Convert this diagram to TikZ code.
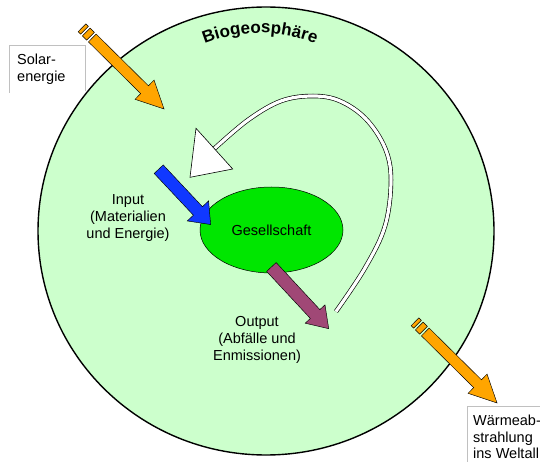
\documentclass[tikz,border=0pt]{standalone}
\usepackage{fontspec}
\setmainfont{Liberation Sans}
\usetikzlibrary{shapes.geometric,decorations.text}
\definecolor{bgreen}{RGB}{204,255,204}
\definecolor{sgreen}{RGB}{0,230,0}
\definecolor{sorange}{RGB}{255,165,0}
\definecolor{sblue}{RGB}{16,56,255}
\definecolor{spurple}{RGB}{160,72,118}
\definecolor{boxgray}{RGB}{192,192,192}
\begin{document}
\begin{tikzpicture}[x=1pt,y=-1pt,
  lbl/.style={font=\fontsize{14.5}{16.8}\selectfont, align=center, inner sep=0pt},
  lbll/.style={font=\fontsize{14.5}{16.8}\selectfont, align=left, inner sep=0pt, anchor=north west},
  arrowshape/.style={draw=black, line width=0.45pt, line join=miter},
  framebox/.style={draw=boxgray, line width=0.7pt},
  stripearrow/.pic={
    \filldraw[arrowshape, fill=sorange] (0,-5.5) rectangle (3.5,5.5);
    \filldraw[arrowshape, fill=sorange] (6,-5.5) rectangle (12,5.5);
    \filldraw[arrowshape, fill=sorange] (14.5,-5.5) -- (88,-5.5) -- (88,-13.5) -- (115.4,0)
      -- (88,13.5) -- (88,5.5) -- (14.5,5.5) -- cycle;
  }
]
\useasboundingbox (0,0) rectangle (540,462);
\fill[white] (0,0) rectangle (540,462);

% Solar box
\fill[white] (9,45) rectangle (85,93);
\draw[framebox] (9,93) -- (9,45) -- (85,45) -- (85,91);
\node[lbll] (sol) at (17,53.5) {Solar-\\energie};

% Biosphere
\node[ellipse, draw=black, line width=1.4pt, fill=bgreen, minimum width=456pt, minimum height=448pt, inner sep=0pt] (bio) at (266,231) {};
\path[decorate, decoration={text along path, text={|\fontsize{17}{17}\selectfont\bfseries|Biogeosphäre}, text align=center}]
  (185,53.1) arc[start angle=240, end angle=300, radius=150];

% Heat box
\fill[white] (467,406) rectangle (540,462);
\draw[framebox] (467,462) -- (467,406) -- (540,406);
\node[lbll] (heat) at (473,414.5) {Wärmeab-\\strahlung\\ins Weltall};

% Society
\node[ellipse, draw=black, line width=0.5pt, fill=sgreen, minimum width=143pt, minimum height=86pt, inner sep=0pt, font=\fontsize{14.5}{16.8}\selectfont] (ges) at (271.5,230) {Gesellschaft};

% striped orange arrows
\pic[rotate=-44.7] (solarr) at (82,27.8) {stripearrow};
\pic[rotate=-44.7] (heatarr) at (415,321.8) {stripearrow};

% input arrow
\begin{scope}[shift={(158.7,169.2)}, rotate=-46.8]
  \filldraw[arrowshape, fill=sblue] (0,-6.2) -- (57.3,-6.2) -- (57.3,-14.6) -- (75.9,0)
    -- (57.3,14.6) -- (57.3,6.2) -- (0,6.2) -- cycle;
\end{scope}

% output arrow
\begin{scope}[shift={(271.4,267)}, rotate=-47.1]
  \filldraw[arrowshape, fill=spurple] (0,-6.5) -- (64.2,-6.5) -- (64.2,-13.5) -- (84.2,0)
    -- (64.2,13.5) -- (64.2,6.5) -- (0,6.5) -- cycle;
\end{scope}

% white feedback arrow
\coordinate (fbstart) at (336,311.5);
\coordinate (fbend) at (214.5,148.5);
\draw[double=white, double distance=3.2pt, line width=0.65pt]
  plot[smooth, tension=0.6] coordinates {(fbstart) (365,268) (385,226) (391,180) (385,148)
  (366,119) (340,101) (313,96) (281,101) (248,120) (fbend)};
\filldraw[draw=black, line width=0.6pt, fill=white, line join=miter]
  (196,128.3) -- (190,177.3) -- (232.7,169) -- cycle;

% labels
\node[lbl] (inp) at (128,218) {Input\\(Materialien\\und Energie)};
\node[lbl] (outp) at (257,340) {Output\\(Abfälle und\\Enmissionen)};
\end{tikzpicture}
\end{document}
